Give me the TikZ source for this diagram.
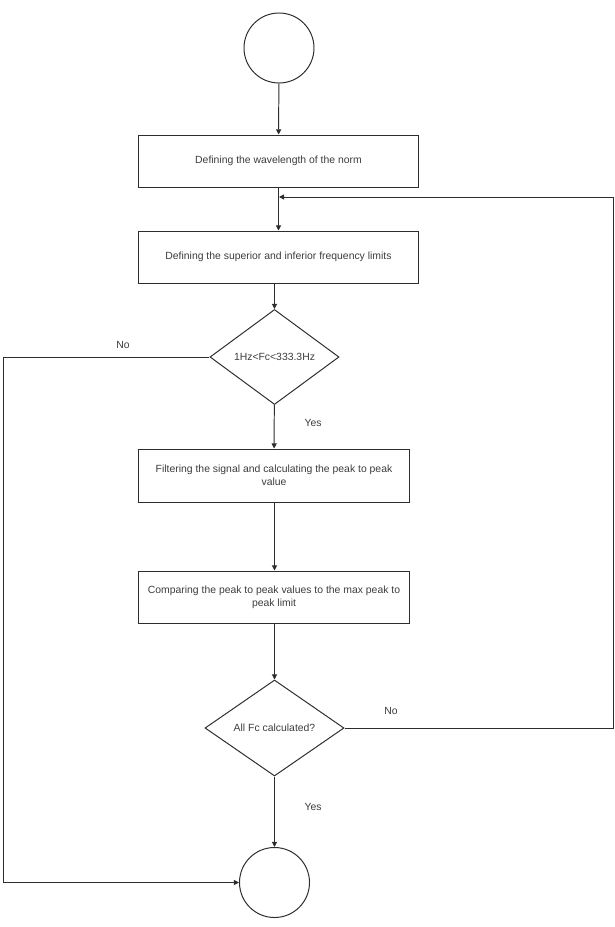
\documentclass[tikz,border=0pt]{standalone}
\usepackage{fontspec}
\setmainfont{Liberation Sans}
\usepackage{tikz}
\usetikzlibrary{shapes,arrows.meta,positioning,calc}
\usepackage{xcolor}
\definecolor{linegray}{RGB}{45,45,45}
\definecolor{textgray}{RGB}{60,60,60}

\begin{document}
\begin{tikzpicture}[x=0.025cm, y=-0.025cm,
    every node/.style={font=\fontsize{7.4}{9}\selectfont, text=textgray},
    box/.style={rectangle, draw=linegray, line width=0.7pt, align=center,
                minimum height=1.3cm, inner sep=0pt},
    test/.style={diamond, draw=linegray, line width=0.7pt, inner sep=0pt},
    term/.style={circle, draw=linegray, line width=0.7pt, minimum size=1.75cm},
    arr/.style={-{Triangle[length=1.3mm, width=1.3mm]}, line width=0.7pt, linegray},
    lin/.style={line width=0.7pt, linegray}]
    \useasboundingbox (0,0) rectangle (615,927);
    \node[term] (start) at (279,48) {};
    \node[box, minimum width=6.975cm] (wave) at (278.5,161) {Defining the wavelength of the norm};
    \node[box, minimum width=6.975cm] (lim) at (278.5,257) {Defining the superior and inferior frequency limits};
    \node[test, minimum width=3.225cm, minimum height=2.375cm] (range) at (274.5,357) {1Hz<Fc<333.3Hz};
    \node[box, minimum width=6.75cm, minimum height=1.325cm] (filt) at (274,475.5)
        {Filtering the signal and calculating the peak to peak\\value};
    \node[box, minimum width=6.75cm] (cmp) at (274,597)
        {Comparing the peak to peak values to the max peak to\\peak limit};
    \node[test, minimum width=3.475cm, minimum height=2.4cm] (done) at (274.5,728) {All Fc calculated?};
    \node[term] (stop) at (274.5,882.5) {};
    \coordinate (join) at (279,197);
    \coordinate (rside) at (613,197);
    \coordinate (lside) at (3,882.5);
    % main flow
    \draw[arr] (start) -- (wave);
    \draw[arr] (wave.south) -- (lim.north);
    \draw[arr] (range.north |- lim.south) -- (range.north);
    \draw[arr] (range) -- (filt);
    \draw[arr] (filt.south -| range) -- (cmp.north -| range);
    \draw[arr] (cmp.south -| range) -- (done.north);
    \draw[arr] (done) -- (stop);
    % loops
    \draw[arr] (done.east) -- (done.east -| rside) -- (rside) -- (join);
    \draw[lin] (range.west) -- (range.west -| lside) -- (lside);
    \draw[arr] (lside) -- (stop.west);
    \node (no1) at (123,345) {No};
    \node (yes1) at (313,423) {Yes};
    \node (no2) at (391,711) {No};
    \node (yes2) at (313,807) {Yes};
\end{tikzpicture}
\end{document}
